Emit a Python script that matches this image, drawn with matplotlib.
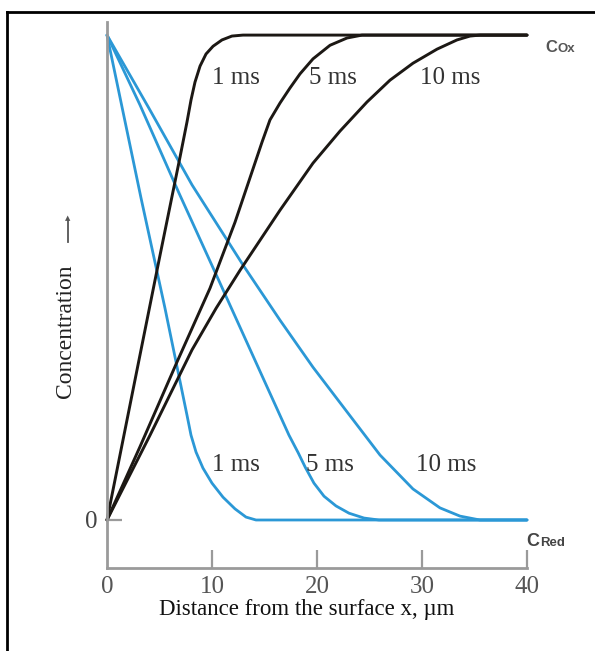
import matplotlib
matplotlib.use("Agg")
import matplotlib.pyplot as plt
from matplotlib.lines import Line2D

# ---- data (x in µm, concentration normalised 0..1) ----
ox_1ms_x = [0, 3.14, 5.05, 6.95, 7.62, 8.0, 8.38, 8.86, 9.43, 10.1, 10.95, 11.9, 12.95, 40]
ox_1ms_y = [0, 0.340, 0.546, 0.748, 0.821, 0.866, 0.903, 0.936, 0.961, 0.977, 0.990, 0.998, 1.0, 1.0]

ox_5ms_x = [0, 3.14, 6.67, 9.81, 12.19, 13.81, 14.76, 15.52, 16.48, 17.43, 18.38, 19.62, 21.24, 22.86, 24.29, 40]
ox_5ms_y = [0, 0.151, 0.326, 0.478, 0.614, 0.718, 0.779, 0.825, 0.860, 0.891, 0.920, 0.951, 0.979, 0.994, 1.0, 1.0]

ox_10ms_x = [0, 4.10, 8.10, 10.4, 12.67, 16.48, 19.62, 22.19, 24.76, 26.95, 29.14, 31.43, 33.33, 34.57, 35.52, 40]
ox_10ms_y = [0, 0.175, 0.351, 0.437, 0.515, 0.639, 0.736, 0.802, 0.862, 0.907, 0.942, 0.971, 0.990, 0.998, 1.0, 1.0]

red_1ms_x = [0, 3.24, 5.52, 7.62, 8.0, 8.48, 9.14, 10.0, 11.05, 12.19, 13.24, 14.19, 40]
red_1ms_y = [1.0, 0.664, 0.437, 0.216, 0.175, 0.140, 0.107, 0.076, 0.047, 0.023, 0.006, 0.0, 0.0]

red_5ms_x = [0, 3.14, 6.86, 10.67, 14.48, 17.33, 18.2, 18.9, 19.71, 20.67, 21.81, 23.05, 24.48, 25.9, 40]
red_5ms_y = [1.0, 0.856, 0.674, 0.493, 0.311, 0.175, 0.139, 0.108, 0.076, 0.049, 0.029, 0.014, 0.004, 0.0, 0.0]

red_10ms_x = [0, 4.0, 8.10, 12.95, 16.48, 19.62, 22.86, 26.0, 29.14, 31.71, 33.62, 35.52, 40]
red_10ms_y = [1.0, 0.849, 0.691, 0.526, 0.412, 0.315, 0.223, 0.134, 0.064, 0.025, 0.008, 0.0, 0.0]

time_labels = ["1 ms", "5 ms", "10 ms"]
upper_label_x = [12.3, 21.5, 32.7]
lower_label_x = [12.3, 21.2, 32.3]
x_ticks = [0, 10, 20, 30, 40]
x_tick_labels = ["0", "10", "20", "30", "40"]

# ---- figure ----
W, H, DPI = 595, 651, 100
fig = plt.figure(figsize=(W / DPI, H / DPI), dpi=DPI)
fig.patch.set_facecolor("white")

# frame (top and left border only)
fig.add_artist(Line2D([7 / W, 1.0], [1 - 12 / H, 1 - 12 / H], color="black", lw=2.0,
                      transform=fig.transFigure))
fig.add_artist(Line2D([7 / W, 7 / W], [0, 1 - 12 / H], color="black", lw=2.0,
                      transform=fig.transFigure))

ax = fig.add_axes([107 / W, 1 - 568 / H, (527 - 107) / W, (568 - 22) / H])
ax.set_xlim(0, 40)
ax.set_ylim(-0.099, 1.027)

serif = "Liberation Serif"
black = "#1c1814"
blue = "#2b98d6"
grey = "#9a9a9a"

for xs, ys in [(red_1ms_x, red_1ms_y), (red_5ms_x, red_5ms_y), (red_10ms_x, red_10ms_y)]:
    ax.plot(xs, ys, color=blue, lw=2.0, solid_joinstyle="round", solid_capstyle="round",
            clip_on=False)
for xs, ys in [(ox_1ms_x, ox_1ms_y), (ox_5ms_x, ox_5ms_y), (ox_10ms_x, ox_10ms_y)]:
    ax.plot(xs, ys, color=black, lw=2.1, solid_joinstyle="round", solid_capstyle="round",
            clip_on=False)

for lab, xu, xl in zip(time_labels, upper_label_x, lower_label_x):
    ax.text(xu, 0.912, lab, family=serif, fontsize=18, color="#333333", ha="center", va="center")
    ax.text(xl, 0.113, lab, family=serif, fontsize=18, color="#333333", ha="center", va="center")

# spines
for s in ["top", "right"]:
    ax.spines[s].set_visible(False)
for s in ["left", "bottom"]:
    ax.spines[s].set_color(grey)
    ax.spines[s].set_linewidth(2.0)

ax.set_xticks(x_ticks[1:])
ax.set_xticklabels(x_tick_labels[1:], family=serif, fontsize=18, color="#555555")
ax.tick_params(axis="x", direction="in", length=13, width=1.6, color=grey, pad=6)
ax.set_yticks([0])
ax.set_yticklabels(["0"], family=serif, fontsize=18, color="#444444")
ax.tick_params(axis="y", direction="in", length=11, width=1.6, color=grey, pad=7)
# x tick label at 0 (at the spine corner)
ax.annotate(x_tick_labels[0], xy=(x_ticks[0], -0.099), xytext=(0, -6), textcoords="offset points",
            family=serif, fontsize=18, color="#555555", ha="center", va="top")

# x label centred at pixel (307, 610)
fig.text(307 / W, 1 - 610 / H, "Distance from the surface x, \u00b5m", family=serif,
         fontsize=16.5, color="#111111", ha="center", va="center")

# y label and arrow
fig.text(66 / W, 1 - 331 / H, "Concentration", rotation=90, family=serif, fontsize=17,
         color="#222222", ha="center", va="center")
fig.add_artist(Line2D([68 / W, 68 / W], [1 - 242 / H, 1 - 220 / H], color="#555555", lw=1.3,
                      transform=fig.transFigure))
fig.text(68 / W, 1 - 218 / H, "\u25b2", fontsize=5, color="#555555", ha="center", va="center")

# C_Ox and C_Red labels
fig.text(545 / W, 1 - 52 / H, "C", family="Liberation Sans", fontweight="bold", fontsize=12,
         color="#555555", ha="left", va="baseline")
fig.text(557 / W, 1 - 52 / H, "Ox", family="Liberation Sans", fontweight="bold", fontsize=9.5,
         color="#555555", ha="left", va="baseline")
fig.text(526 / W, 1 - 546 / H, "C", family="Liberation Sans", fontweight="bold", fontsize=13,
         color="#444444", ha="left", va="baseline")
fig.text(540 / W, 1 - 546 / H, "Red", family="Liberation Sans", fontweight="bold", fontsize=9.5,
         color="#444444", ha="left", va="baseline")

fig.savefig("out.png", dpi=DPI, facecolor="white")
